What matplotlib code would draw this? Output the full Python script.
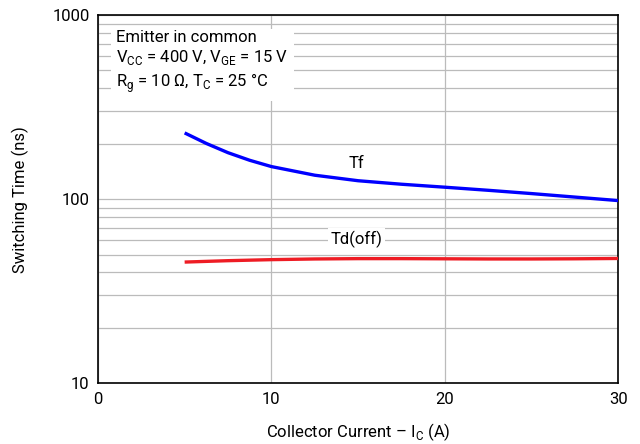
import matplotlib
matplotlib.use("Agg")
import matplotlib.pyplot as plt
from matplotlib.ticker import LogLocator, NullFormatter

plt.rcParams['font.family'] = ['Roboto', 'DejaVu Sans']
plt.rcParams['mathtext.fontset'] = 'custom'
plt.rcParams['mathtext.rm'] = 'Roboto'

# data
ic = [5, 6.25, 7.5, 8.75, 10, 12.5, 15, 17.5, 20, 22.5, 25, 27.5, 30]
tf = [229, 200.7, 178.8, 162.6, 150.3, 134.9, 125.9, 120.5, 116.1, 111.7, 107.2, 102.6, 98.2]
td_off = [45.5, 45.9, 46.3, 46.6, 46.9, 47.3, 47.5, 47.5, 47.4, 47.3, 47.3, 47.4, 47.6]

fig = plt.figure(figsize=(6.4, 4.44), dpi=100)
ax = fig.add_axes([0.153, 0.137, 0.813, 0.829])

ax.plot(ic, tf, color='#0000ff', linewidth=2.4, solid_capstyle='butt', zorder=3)
ax.plot(ic, td_off, color='#ee1c24', linewidth=2.4, solid_capstyle='butt', zorder=3)

ax.set_yscale('log')
ax.set_xlim(0, 30)
ax.set_ylim(10, 1000)
ax.set_xticks([0, 10, 20, 30])
ax.set_yticks([10, 100, 1000])
ax.set_yticklabels(['10', '100', '1000'])
ax.yaxis.set_minor_locator(LogLocator(base=10, subs=range(2, 10)))
ax.yaxis.set_minor_formatter(NullFormatter())
ax.tick_params(which='both', length=0, labelsize=12, pad=6)
ax.grid(True, which='both', color='#bbbbbb', linewidth=0.9)
ax.set_axisbelow(True)
for s in ax.spines.values():
    s.set_linewidth(1.2)

ax.set_xlabel('Collector Current – I$_\\mathregular{C}$ (A)', fontsize=12, labelpad=11)
ax.set_ylabel('Switching Time (ns)', fontsize=12, labelpad=17)

ax.text(14.9, 157, 'Tf', fontsize=12, ha='center', va='center', zorder=4)
ax.text(14.9, 60.5, 'Td(off)', fontsize=12, ha='center', va='center', zorder=4,
        bbox=dict(facecolor='white', edgecolor='none', pad=2))

ax.text(1.05, 830,
        'Emitter in common\n'
        'V$_\\mathregular{CC}$ = 400 V, V$_\\mathregular{GE}$ = 15 V\n'
        'R$_\\mathregular{g}$ = 10 Ω, T$_\\mathregular{C}$ = 25 °C',
        fontsize=12, ha='left', va='top', linespacing=1.25, zorder=4,
        bbox=dict(facecolor='white', edgecolor='none', pad=4))

fig.savefig('out.png', dpi=100)
